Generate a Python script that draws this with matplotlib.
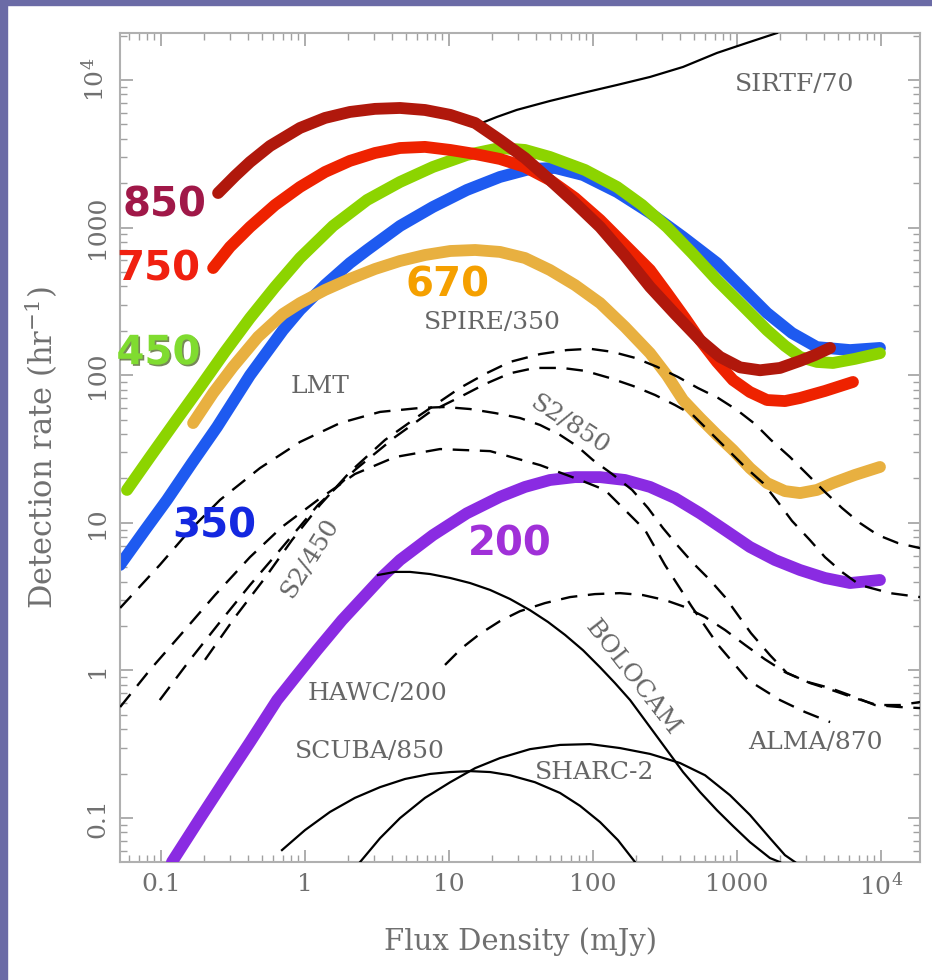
import matplotlib
matplotlib.use("Agg")
import matplotlib.pyplot as plt
import matplotlib.patheffects as pe
from matplotlib.patches import Rectangle
from matplotlib.ticker import LogLocator, FixedLocator, NullFormatter

# ---- colored detection-rate curves (flux in mJy, rate in hr^-1) ----
x_850 = [0.249, 0.327, 0.415, 0.571, 0.923, 1.377, 2.05, 3.06, 4.57, 6.81, 10.2, 15.2, 22.6, 33.7,
         50.2, 75.0, 112, 167, 249, 371, 554, 762, 1050, 1445, 1990, 2740, 3480, 4430]
y_850 = [1714, 2239, 2780, 3570, 4730, 5530, 6070, 6370, 6460, 6260, 5800, 5110, 3920, 2960,
         2100, 1468, 1009, 643, 396, 260, 173, 133, 113, 108, 112, 125, 137, 153]

x_750 = [0.230, 0.301, 0.415, 0.619, 0.923, 1.377, 2.05, 3.06, 4.57, 6.81, 10.2, 15.2, 22.6, 33.7, 50.2,
         75.0, 112, 167, 249, 326, 435, 554, 726, 938, 1230, 1616, 2153, 2740, 4080, 6390]
y_750 = [532, 739, 1009, 1422, 1884, 2380, 2830, 3200, 3460, 3520, 3356, 3150, 2915, 2575, 2100,
         1587, 1126, 762, 516, 361, 244, 173, 123, 92.7, 76.9, 67.9, 66.8, 70.1, 78.2, 90.0]

x_450 = [0.058, 0.0839, 0.125, 0.187, 0.278, 0.415, 0.619, 0.923, 1.565, 2.70, 4.57, 7.74, 13.3, 22.6, 33.7,
         50.2, 88.0, 147, 219, 326, 487, 726, 1083, 1616, 2153, 2740, 3590, 4640, 6590, 9840]
y_450 = [16.7, 27.9, 48.2, 83.2, 144, 244, 396, 622, 1026, 1538, 2037, 2575, 3104, 3460, 3356,
         3008, 2455, 1884, 1422, 1009, 673, 441, 299, 202, 158, 133, 123, 121, 129, 141]

x_350 = [0.0519, 0.0774, 0.110, 0.164, 0.245, 0.415, 0.703, 0.923, 1.377, 2.05, 2.70, 4.57, 7.74, 13.3,
         22.6, 36.5, 54.5, 85.3, 147, 249, 422, 726, 1083, 1616, 2410, 3590, 6100, 9840]
y_350 = [5.18, 8.93, 14.3, 25.4, 44.6, 100, 202, 277, 408, 575, 705, 1026, 1380, 1798,
         2203, 2495, 2535, 2270, 1742, 1256, 863, 575, 390, 264, 193, 155, 148, 153]

x_670 = [0.167, 0.230, 0.316, 0.472, 0.703, 0.923, 1.377, 2.05, 3.06, 4.57, 6.81, 10.2, 15.2, 22.6, 33.7, 50.2,
         75.0, 112, 167, 249, 326, 422, 554, 726, 938, 1230, 1616, 2153, 2740, 3590, 4640, 6590, 9840]
y_670 = [47.4, 75.7, 114, 182, 260, 308, 378, 449, 524, 594, 652, 694, 705, 684, 622, 516,
         408, 308, 212, 141, 100, 67.9, 51.3, 39.4, 31.1, 23.5, 18.6, 16.4, 15.9, 16.7, 18.6, 21.1, 23.9]

x_200 = [0.119, 0.187, 0.278, 0.415, 0.640, 0.880, 1.21, 1.807, 2.70, 3.48, 4.57, 7.74, 13.3, 22.6, 33.7,
         50.2, 75.0, 112, 167, 249, 371, 554, 826, 1230, 1836, 2740, 4080, 6100, 9840]
y_200 = [0.0503, 0.100, 0.181, 0.327, 0.630, 0.931, 1.37, 2.19, 3.34, 4.36, 5.60, 8.26, 11.6, 15.0, 17.5,
         19.5, 20.4, 20.4, 19.5, 17.5, 14.7, 11.6, 8.93, 6.86, 5.60, 4.79, 4.23, 3.91, 4.10]

# ---- other instruments, solid lines ----
x_sirtf = [15.6, 21.5, 29.6, 50.2, 85.3, 147, 249, 422, 726, 1172, 1897]
y_sirtf = [4960, 5615, 6270, 7205, 8170, 9250, 10480, 12250, 15240, 17820, 20800]

x_bolocam = [3.21, 4.22, 5.36, 7.38, 10.2, 14.0, 19.3, 26.5, 36.5, 48.7, 64.0, 85.3,
             112, 142, 181, 249, 326, 422, 554, 726, 938, 1230, 1694, 1990]
y_bolocam = [4.43, 4.65, 4.65, 4.50, 4.23, 3.91, 3.51, 3.05, 2.56, 2.13, 1.74, 1.37,
             1.05, 0.822, 0.630, 0.413, 0.289, 0.205, 0.150, 0.113, 0.0883, 0.0687, 0.0536, 0.0503]

x_sharc = [2.41, 3.32, 4.57, 6.81, 10.2, 15.2, 22.6, 36.5, 59.0, 95.3, 154, 249, 402, 600, 893, 1230, 1694, 2153, 2530]
y_sharc = [0.0503, 0.0731, 0.100, 0.137, 0.175, 0.218, 0.255, 0.293, 0.313, 0.317, 0.298, 0.272, 0.236,
           0.195, 0.143, 0.105, 0.0731, 0.0561, 0.0503]

x_scuba = [0.692, 1.0, 1.49, 2.22, 3.32, 4.95, 7.38, 10.2, 14.0, 19.3, 26.5, 39.5, 59.0, 81.3, 112, 149, 196]
y_scuba = [0.0607, 0.0829, 0.110, 0.137, 0.162, 0.184, 0.199, 0.205, 0.208, 0.205, 0.195, 0.175, 0.148,
           0.121, 0.0939, 0.0709, 0.0503]

# ---- other instruments, dashed lines ----
x_spire = [0.202, 0.327, 0.527, 0.812, 1.27, 2.05, 3.59, 6.29, 11.9, 17.8, 26.5, 42.9, 65.9, 95.3, 136, 196,
           278, 389, 535, 738, 1000, 1334, 1722, 2333, 3110, 4080, 5360, 7140, 9530, 13120, 18660]
y_spire = [1.18, 2.30, 4.23, 7.64, 13.2, 22.1, 36.4, 53.7, 81.9, 102, 123, 139, 148, 151, 144, 131,
           114, 97.3, 81.9, 70.2, 58.1, 46.7, 36.4, 27.9, 21.1, 16.2, 12.6, 9.97, 8.26, 7.29, 6.74]

x_s2 = [0.098, 0.159, 0.257, 0.415, 0.670, 1.23, 2.22, 4.22, 7.38, 11.9, 17.8, 26.5, 39.5, 61.0, 88.0, 131,
        190, 270, 371, 494, 649, 867, 1137, 1517, 1927, 2410, 3210, 4080, 5360, 7140, 11550, 18660]
y_s2 = [0.630, 1.18, 2.13, 3.79, 6.54, 13.2, 22.8, 38.1, 56.4, 71.1, 87.1, 103, 112, 112, 107, 95.7,
        84.5, 73.4, 62.8, 53.7, 41.2, 31.1, 23.9, 18.6, 13.8, 10.3, 7.64, 5.86, 4.64, 3.79, 3.34, 3.14]

x_lmt = [0.052, 0.098, 0.159, 0.257, 0.487, 0.923, 1.75, 3.32, 6.29, 9.38, 14.0, 20.9, 31.1, 42.9, 59.0, 77.4,
         100, 136, 187, 241, 306, 389, 494, 649, 826, 1016, 1250, 1694, 2220, 3210, 4570, 6590, 9380, 13550, 18660]
y_lmt = [2.65, 5.18, 8.93, 14.3, 23.5, 35.3, 47.4, 56.4, 60.0, 60.9, 59.0, 55.4, 51.3, 46.0, 39.4, 33.1,
         26.6, 21.4, 16.7, 12.6, 9.22, 6.97, 5.35, 4.10, 3.14, 2.37, 1.79, 1.27, 0.962, 0.822, 0.736, 0.650,
         0.583, 0.583, 0.611]

x_alma = [0.052, 0.0839, 0.140, 0.237, 0.415, 0.692, 1.23, 2.22, 4.22, 8.66, 19.3, 42.9, 81.3, 121, 154,
          230, 316, 487, 738, 1191, 1990, 2965, 4430]
y_alma = [0.565, 1.01, 1.79, 3.24, 5.86, 9.38, 14.3, 21.4, 27.9, 31.6, 30.6, 24.6, 19.5, 16.7, 13.2,
          8.93, 5.18, 2.69, 1.49, 0.861, 0.630, 0.523, 0.447]

x_hawc = [9.38, 12.3, 16.4, 22.6, 31.1, 46.4, 69.2, 103, 154, 222, 316, 435, 600, 826, 1137, 1563,
          2153, 3110, 4430, 6300, 9080, 13550, 18660]
y_hawc = [1.09, 1.42, 1.77, 2.16, 2.52, 2.86, 3.14, 3.29, 3.34, 3.24, 3.00, 2.69, 2.30, 1.88, 1.49, 1.19,
          0.975, 0.834, 0.760, 0.671, 0.583, 0.565, 0.556]

x_ticks = [0.1, 1, 10, 100, 1000, 1e4]
x_ticklabels = ["0.1", "1", "10", "100", "1000", "10$^4$"]
y_ticks = [0.1, 1, 10, 100, 1000, 1e4]
y_ticklabels = ["0.1", "1", "10", "100", "1000", "10$^4$"]

plt.rcParams["mathtext.fontset"] = "dejavuserif"
SERIF = "DejaVu Serif"
GRAY = "#666666"
TICKGRAY = "#707070"

fig = plt.figure(figsize=(9.32, 9.80), dpi=100, facecolor="white")
# slide frame strips
fig.patches.append(Rectangle((0, 0.9945), 1, 0.0055, transform=fig.transFigure, color="#6b6ba6", zorder=0))
fig.patches.append(Rectangle((0, 0), 0.0075, 1, transform=fig.transFigure, color="#6b6ba6", zorder=0))

ax = fig.add_axes([120 / 932, 1 - 862 / 980, 800 / 932, 829 / 980])
ax.set_xscale("log")
ax.set_yscale("log")
ax.set_xlim(0.0519, 18660)
ax.set_ylim(0.0504, 20800)

thick = dict(lw=8.5, solid_capstyle="round", solid_joinstyle="round")
ax.plot(x_350, y_350, color="#1e5af0", zorder=2, **thick)
ax.plot(x_450, y_450, color="#8cd400", zorder=3, **thick)
ax.plot(x_670, y_670, color="#e8b040", zorder=3, **thick)
ax.plot(x_200, y_200, color="#8a2be2", zorder=3, **thick)
ax.plot(x_750, y_750, color="#ee2200", zorder=4, **thick)
ax.plot(x_sirtf, y_sirtf, color="black", lw=1.6, zorder=4.5)
ax.plot(x_850, y_850, color="#b0180c", zorder=5, **thick)

solid = dict(color="black", lw=1.6, zorder=6)
ax.plot(x_bolocam, y_bolocam, **solid)
ax.plot(x_sharc, y_sharc, **solid)
ax.plot(x_scuba, y_scuba, **solid)

dashed = dict(color="black", lw=1.7, ls=(0, (7, 4.5)), zorder=6)
for xs, ys in [(x_spire, y_spire), (x_s2, y_s2), (x_lmt, y_lmt), (x_alma, y_alma), (x_hawc, y_hawc)]:
    ax.plot(xs, ys, **dashed)

# wavelength labels
big = dict(fontsize=29, fontweight="bold", family="DejaVu Sans", va="center", ha="left", zorder=8, clip_on=False)
ax.text(0.054, 1420, "850", color="#a01848", **big)
ax.text(0.0487, 516, "750", color="#f02010", **big)
ax.text(0.049, 141, "450", color="#80dc30",
        path_effects=[pe.withSimplePatchShadow(offset=(1.2, -1.2), shadow_rgbFace="#556b2f", alpha=0.8)], **big)
ax.text(0.119, 9.51, "350", color="#1428e0", **big)
ax.text(4.95, 408, "670", color="#f5a000", **big)
ax.text(13.6, 7.08, "200", color="#a030d8", **big)

# instrument labels
lab = dict(fontsize=18, family=SERIF, color=GRAY, ha="center", va="center", zorder=7)
ax.text(2530, 9250, "SIRTF/70", **lab)
ax.text(20.0, 229, "SPIRE/350", **lab)
ax.text(1.27, 83.2, "LMT", **lab)
ax.text(69.2, 46.0, "S2/850", rotation=-33, **lab)
ax.text(1.08, 5.78, "S2/450", rotation=58, **lab)
ax.text(3.21, 0.703, "HAWC/200", **lab)
ax.text(2.83, 0.284, "SCUBA/850", **lab)
ax.text(103, 0.202, "SHARC-2", **lab)
ax.text(187, 0.889, "BOLOCAM", rotation=-52, **lab)
ax.text(3480, 0.327, "ALMA/870", **lab)

# axes styling
for s in ax.spines.values():
    s.set_color("#b0b0b0")
    s.set_linewidth(1.5)
ax.xaxis.set_major_locator(FixedLocator(x_ticks))
ax.yaxis.set_major_locator(FixedLocator(y_ticks))
ax.xaxis.set_minor_locator(LogLocator(base=10, subs=range(2, 10), numticks=20))
ax.yaxis.set_minor_locator(LogLocator(base=10, subs=range(2, 10), numticks=20))
ax.xaxis.set_minor_formatter(NullFormatter())
ax.yaxis.set_minor_formatter(NullFormatter())
ax.set_xticklabels(x_ticklabels, fontsize=18, family=SERIF, color=TICKGRAY)
ax.set_yticklabels(y_ticklabels, fontsize=18, family=SERIF, color=TICKGRAY, rotation=90, va="center")
ax.tick_params(which="both", direction="in", top=True, right=True, color="#a0a0a0")
ax.tick_params(which="major", length=9, width=1.2, pad=8)
ax.tick_params(which="minor", length=5, width=1.0)

ax.set_xlabel("Flux Density (mJy)", fontsize=21, family=SERIF, color=TICKGRAY, labelpad=20)
ax.set_ylabel("Detection rate (hr$^{-1}$)", fontsize=22, family=SERIF, color=TICKGRAY, labelpad=16)

fig.savefig("out.png", dpi=100, facecolor="white")
